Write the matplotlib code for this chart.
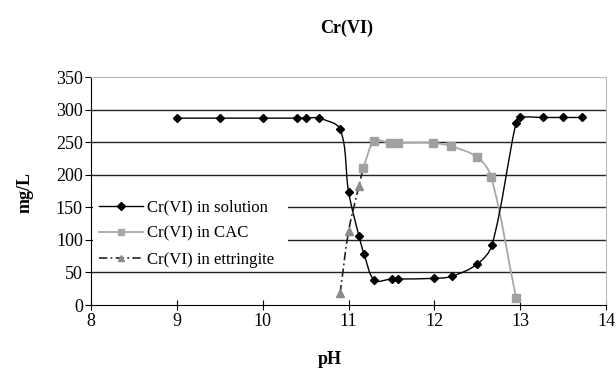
import numpy as np
import matplotlib.pyplot as plt
from matplotlib.path import Path
from matplotlib.patches import PathPatch, Rectangle

plt.rcParams['font.family'] = ['Liberation Serif', 'DejaVu Serif']

# Cr(VI) in solution
sol_ph = [9.0, 9.5, 10.0, 10.4, 10.5, 10.65, 10.9, 11.0, 11.12, 11.18, 11.3,
          11.5, 11.58, 12.0, 12.2, 12.5, 12.67, 12.95, 13.0, 13.27, 13.5, 13.72]
sol_val = [287, 287, 287, 287, 287, 287, 270, 173, 106, 78, 38,
           40, 40, 41, 44, 63, 92, 280, 288, 288, 288, 288]

# Cr(VI) in CAC
cac_ph = [11.17, 11.3, 11.48, 11.58, 11.98, 12.19, 12.5, 12.66, 12.95]
cac_val = [211, 252, 249, 249, 249, 244, 227, 197, 11]

# Cr(VI) in ettringite
ett_ph = [10.9, 11.0, 11.12, 11.17]
ett_val = [18, 114, 183, 211]

X_MIN, X_MAX, Y_MIN, Y_MAX = 8, 14, 0, 350


def smooth_path(x, y, sx, sy):
    # smoothed line: bezier with chord-weighted tangents (sx, sy = px per unit)
    p = np.column_stack([np.asarray(x, float) * sx, np.asarray(y, float) * sy])
    n = len(p)
    d = np.hypot(*np.diff(p, axis=0).T)
    verts = [p[0]]
    codes = [Path.MOVETO]
    for i in range(n - 1):
        if i == 0:
            t1 = (p[1] - p[0]) / 3
        else:
            t1 = (p[i + 1] - p[i - 1]) * d[i] / (d[i - 1] + d[i]) / 3
        if i + 1 == n - 1:
            t2 = (p[i + 1] - p[i]) / 3
        else:
            t2 = (p[i + 2] - p[i]) * d[i] / (d[i] + d[i + 1]) / 3
        verts += [p[i] + t1, p[i + 1] - t2, p[i + 1]]
        codes += [Path.CURVE4] * 3
    verts = np.array(verts) / [sx, sy]
    return Path(verts, codes)


fig = plt.figure(figsize=(6.16, 3.78), dpi=100)
ax = fig.add_axes([0.148, 0.193, 0.836, 0.603])
ax.set_xlim(X_MIN, X_MAX)
ax.set_ylim(Y_MIN, Y_MAX)

# pixels per data unit, used for smoothing in screen space
bb = ax.get_position()
sx = bb.width * 616 / (X_MAX - X_MIN)
sy = bb.height * 378 / (Y_MAX - Y_MIN)

for v in range(50, 301, 50):
    ax.axhline(v, color='#222222', lw=1.0, zorder=1)

# white box behind the legend
ax.add_patch(Rectangle((0.003, 0.16), 0.38, 0.35, transform=ax.transAxes,
                       facecolor='white', edgecolor='none', zorder=2))

dashdot = (0, (5, 2, 1, 2))
ax.add_patch(PathPatch(smooth_path(ett_ph, ett_val, sx, sy), fill=False,
                       edgecolor='#222222', lw=1.2, linestyle=dashdot, zorder=3))
ax.add_patch(PathPatch(smooth_path(cac_ph, cac_val, sx, sy), fill=False,
                       edgecolor='#a8a8a8', lw=1.3, zorder=3))
ax.add_patch(PathPatch(smooth_path(sol_ph, sol_val, sx, sy), fill=False,
                       edgecolor='black', lw=1.0, zorder=4))

ax.plot(ett_ph[:-1], ett_val[:-1], ls='none', marker='^', ms=6, color='#8c8c8c', zorder=5)
ax.plot(cac_ph, cac_val, ls='none', marker='s', ms=5.5, color='#a0a0a0', zorder=5)
ax.plot(sol_ph, sol_val, ls='none', marker='D', ms=4.5, color='black', zorder=6)

# legend proxies
h1, = ax.plot([], [], color='black', lw=1.0, marker='D', ms=4.5)
h2, = ax.plot([], [], color='#a8a8a8', lw=1.3, marker='s', ms=5)
h3, = ax.plot([], [], color='#222222', lw=1.2, ls=dashdot, marker='^', ms=5,
              mfc='#8c8c8c', mec='#8c8c8c')
leg = ax.legend([h1, h2, h3],
                ['Cr(VI) in solution', 'Cr(VI) in CAC', 'Cr(VI) in ettringite'],
                loc='upper left', bbox_to_anchor=(0.015, 0.462), frameon=False,
                fontsize=12.1, handlelength=2.65, handletextpad=0.2,
                labelspacing=0.6, borderaxespad=0, borderpad=0)
leg.set_zorder(10)

ax.set_xticks(range(X_MIN, X_MAX + 1))
ax.set_yticks(range(Y_MIN, Y_MAX + 1, 50))
ax.tick_params(axis='both', labelsize=13, length=4, color='black')
ax.tick_params(axis='x', direction='inout', length=7, pad=2)
ax.tick_params(axis='y', direction='out', pad=2)
ax.spines['top'].set_color('#bbbbbb')
ax.spines['right'].set_color('#bbbbbb')
ax.spines['left'].set_color('black')
ax.spines['bottom'].set_color('black')
ax.spines['bottom'].set_zorder(7)

fig.text(0.563, 0.925, 'Cr(VI)', ha='center', va='center', fontsize=13, fontweight='bold')
fig.text(0.535, 0.05, 'pH', ha='center', va='center', fontsize=13, fontweight='bold')
fig.text(0.04, 0.49, 'mg/L', ha='center', va='center', rotation=90, fontsize=13, fontweight='bold')

fig.savefig('out.png', dpi=100)
